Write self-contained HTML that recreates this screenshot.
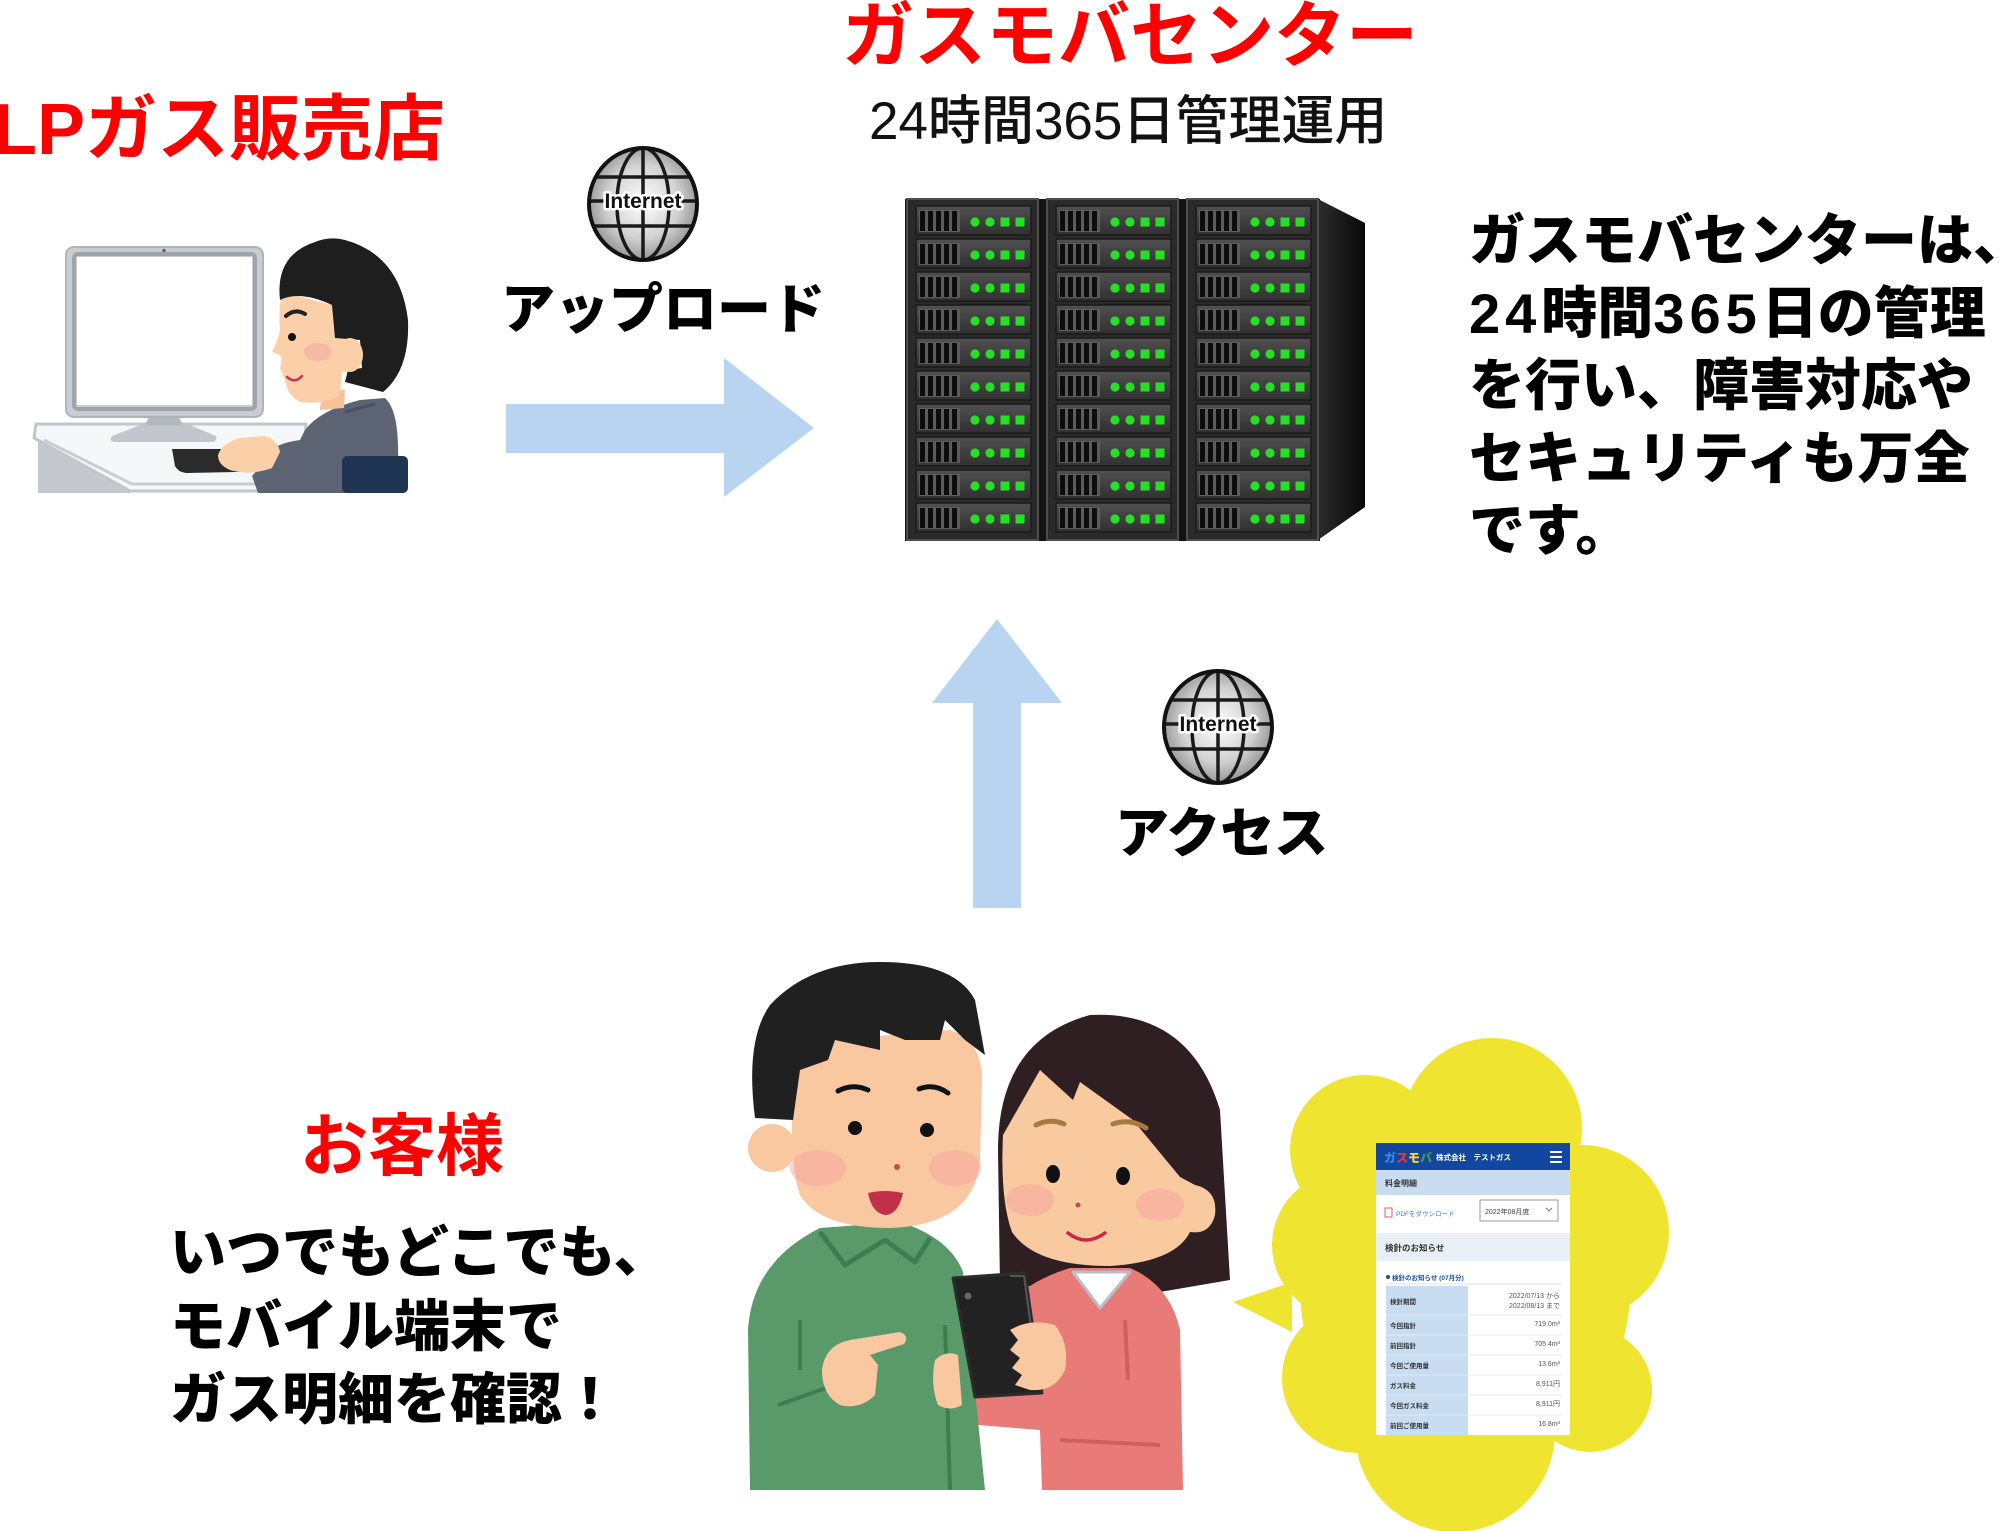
<!DOCTYPE html>
<html><head><meta charset="utf-8">
<style>
html,body{margin:0;padding:0;background:#fff;}
body{width:2000px;height:1531px;position:relative;overflow:hidden;}
svg.main{position:absolute;left:0;top:0;}
.t{position:absolute;white-space:nowrap;font-family:"Liberation Sans","Noto Sans CJK JP",sans-serif;margin:0;}
.red{color:#ff0000;font-weight:700;}
.blk{color:#000;font-weight:900;}
.sub{color:#111;font-weight:500;}
.d{letter-spacing:5px;}
</style></head><body>
<svg class="main" width="2000" height="1531" viewBox="0 0 2000 1531" xmlns="http://www.w3.org/2000/svg">
<defs>
  <radialGradient id="gg" cx="50%" cy="48%" r="55%">
    <stop offset="0" stop-color="#ffffff"/>
    <stop offset="0.6" stop-color="#d2d2d2"/>
    <stop offset="1" stop-color="#8c8c8c"/>
  </radialGradient>
  <clipPath id="gc"><ellipse cx="0" cy="0" rx="54" ry="56"/></clipPath>
  <g id="globe">
    <ellipse cx="0" cy="0" rx="54" ry="56" fill="url(#gg)"/>
    <g clip-path="url(#gc)" stroke="#1a1a1a" stroke-width="3.5" fill="none">
      <line x1="-60" y1="-27" x2="60" y2="-27"/>
      <line x1="-60" y1="22" x2="60" y2="22"/>
      <line x1="-60" y1="-3" x2="60" y2="-3"/>
      <line x1="0" y1="-60" x2="0" y2="60"/>
      <ellipse cx="0" cy="0" rx="26" ry="56"/>
    </g>
    <ellipse cx="0" cy="0" rx="54" ry="56" fill="none" stroke="#111" stroke-width="4"/>
    <text x="0" y="4" text-anchor="middle" font-family="Liberation Sans, sans-serif" font-weight="bold" font-size="21" fill="#111" stroke="#fff" stroke-width="5" paint-order="stroke" stroke-linejoin="round">Internet</text>
  </g>
  <linearGradient id="ug" x1="0" y1="0" x2="0" y2="1">
    <stop offset="0" stop-color="#505050"/>
    <stop offset="1" stop-color="#303030"/>
  </linearGradient>
  <linearGradient id="sg" x1="0" y1="0" x2="1" y2="0">
    <stop offset="0" stop-color="#2c2c2c"/>
    <stop offset="1" stop-color="#080808"/>
  </linearGradient>
  <g id="unit">
    <rect x="0" y="0" width="115" height="29" fill="url(#ug)" stroke="#1a1a1a" stroke-width="1.5"/>
    <rect x="3" y="4" width="41" height="22" fill="#5c5c5c"/>
    <rect x="4" y="5" width="5" height="20" fill="#0c0c0c"/>
    <rect x="12" y="5" width="5" height="20" fill="#0c0c0c"/>
    <rect x="20" y="5" width="5" height="20" fill="#0c0c0c"/>
    <rect x="28" y="5" width="5" height="20" fill="#0c0c0c"/>
    <rect x="36" y="5" width="5" height="20" fill="#0c0c0c"/>
    <circle cx="59" cy="16" r="4.6" fill="#25e025"/>
    <circle cx="74" cy="16" r="4.6" fill="#25e025"/>
    <rect x="84.5" y="11.5" width="9" height="9" fill="#25e025"/>
    <rect x="99.5" y="11.5" width="9" height="9" fill="#25e025"/>
  </g>
  <g id="col">
    <rect x="0" y="0" width="131" height="341" fill="#2a2a2a" stroke="#4d4d4d" stroke-width="2"/>
    <use href="#unit" x="9" y="7"/>
    <use href="#unit" x="9" y="40"/>
    <use href="#unit" x="9" y="73"/>
    <use href="#unit" x="9" y="106"/>
    <use href="#unit" x="9" y="139"/>
    <use href="#unit" x="9" y="172"/>
    <use href="#unit" x="9" y="205"/>
    <use href="#unit" x="9" y="238"/>
    <use href="#unit" x="9" y="271"/>
    <use href="#unit" x="9" y="304"/>
  </g>
</defs>

<!-- ===== Computer + person (top-left) ===== -->
<polygon points="38,440 38,493 132,493" fill="#c5c9cf"/>
<polygon points="36,424 306,424 303,491 130,491 34,438" fill="#f6f7f9" stroke="#c2c6cc" stroke-width="3" stroke-linejoin="round"/>
<polyline points="44,440 132,484 300,484" fill="none" stroke="#c9cdd3" stroke-width="3"/>
<polygon points="150,415 178,415 184,427 144,427" fill="#b3b8bf"/>
<path d="M140 425 L190 425 L216 436 Q218 442 210 442 L116 442 Q108 442 112 436 Z" fill="#c3c7cd"/>
<rect x="66" y="247" width="197" height="170" rx="8" fill="#c9ccd1" stroke="#b0b4ba" stroke-width="2"/>
<rect x="74" y="254" width="181" height="155" rx="4" fill="none" stroke="#9fa4ab" stroke-width="4"/>
<rect x="77" y="257" width="175" height="148" fill="#fff"/>
<circle cx="164" cy="250.5" r="1.8" fill="#666"/>
<path d="M172 449 L300 449 L298 466 Q296 471 290 471 L186 473 Q178 472 175 466 Z" fill="#2b2b2b"/>
<path d="M262 493 L258 470 Q262 445 300 440 L305 430 Q320 410 360 400 L385 398 Q398 410 398 450 L400 493 Z" fill="#5c6473"/>
<path d="M258 493 L252 476 L266 460 L300 450 L312 470 L292 493 Z" fill="#5c6473"/>
<line x1="345" y1="412" x2="375" y2="404" stroke="#4a5261" stroke-width="3"/>
<rect x="342" y="456" width="66" height="37" rx="5" fill="#1f3553"/>
<polygon points="322,388 345,390 344,408 320,410" fill="#f6c29a"/>
<path d="M283 292 L332 305 L336 338 Q360 336 362 355 Q360 372 342 372 L340 395 Q325 405 300 402 Q287 395 285 380 L280 368 Q283 360 280 355 L272 352 Q278 340 280 330 Q278 305 283 292 Z" fill="#fbcfa8"/>
<path d="M280 300 Q275 255 315 242 Q330 236 345 240 Q400 255 408 320 Q410 370 383 392 L345 382 L348 370 L362 368 L360 340 L335 338 L332 305 Q300 290 280 300 Z" fill="#1e1e1e"/>
<ellipse cx="350" cy="355" rx="13" ry="17" fill="#fbcfa8"/>
<ellipse cx="318" cy="352" rx="14" ry="9" fill="#f6a7a0" opacity="0.55"/>
<path d="M286 316 Q295 308 305 314" fill="none" stroke="#222" stroke-width="4" stroke-linecap="round"/>
<circle cx="292" cy="337" r="4" fill="#111"/>
<path d="M287 377 Q295 384 302 376" fill="none" stroke="#c23a5a" stroke-width="2.5" stroke-linecap="round"/>
<path d="M218 455 Q222 443 240 438 L265 436 Q278 440 280 452 L272 468 Q250 476 230 470 Q218 465 218 455 Z" fill="#fbcfa8"/>

<!-- ===== Globe 1 ===== -->
<use href="#globe" x="643" y="204"/>

<!-- ===== Right arrow ===== -->
<polygon points="506,404 724,404 724,358 814,428 724,497 724,453 506,453" fill="#b8d4f1"/>

<!-- ===== Server rack ===== -->
<rect x="905" y="199" width="415" height="342" fill="#131313"/>
<polygon points="1318,199 1365,223 1365,507 1318,540" fill="url(#sg)"/>
<use href="#col" x="907" y="199"/>
<use href="#col" x="1047" y="199"/>
<use href="#col" x="1187" y="199"/>

<!-- ===== Up arrow ===== -->
<polygon points="997,619 1062,703 1021,703 1021,908 973,908 973,703 932,703" fill="#b8d4f1"/>

<!-- ===== Globe 2 ===== -->
<use href="#globe" x="1218" y="727"/>

<!-- ===== Speech cloud ===== -->
<g fill="#efe42f">
  <polygon points="1233,1302 1292,1282 1292,1332"/>
  <circle cx="1492" cy="1128" r="90"/>
  <circle cx="1365" cy="1150" r="75"/>
  <circle cx="1345" cy="1245" r="73"/>
  <circle cx="1357" cy="1378" r="75"/>
  <circle cx="1455" cy="1432" r="100"/>
  <circle cx="1590" cy="1390" r="62"/>
  <circle cx="1582" cy="1232" r="87"/>
  <ellipse cx="1465" cy="1290" rx="165" ry="175"/>
</g>

<!-- ===== Screenshot in cloud ===== -->
<g transform="translate(1376,1143)" font-family="Liberation Sans, Noto Sans CJK JP, sans-serif">
  <rect x="0" y="0" width="194" height="292" fill="#ffffff"/>
  <rect x="0" y="0" width="194" height="27" fill="#12479f"/>
  <text x="8" y="19" font-size="12" font-weight="900"><tspan fill="#2f8de4">ガ</tspan><tspan fill="#e53935">ス</tspan><tspan fill="#fdd835">モ</tspan><tspan fill="#43a047">バ</tspan></text>
  <text x="60" y="17" font-size="7.5" fill="#ffffff" font-weight="bold">株式会社　テストガス</text>
  <rect x="174" y="8" width="12" height="2" fill="#fff"/>
  <rect x="174" y="13" width="12" height="2" fill="#fff"/>
  <rect x="174" y="18" width="12" height="2" fill="#fff"/>
  <rect x="0" y="27" width="194" height="25" fill="#c9ddf2"/>
  <text x="9" y="43" font-size="8" font-weight="bold" fill="#333">料金明細</text>
  <rect x="9" y="65" width="7" height="9" fill="#fff" stroke="#e06060" stroke-width="1"/>
  <text x="20" y="73" font-size="6.5" fill="#3a7bd5">PDFをダウンロード</text>
  <rect x="104" y="57" width="78" height="21" fill="#fff" stroke="#9a9a9a" stroke-width="1"/>
  <text x="109" y="71" font-size="7" fill="#444">2022年08月度</text>
  <polyline points="170,65 173,68 176,65" fill="none" stroke="#777" stroke-width="1"/>
  <rect x="0" y="90" width="194" height="28" fill="#e9eff6"/>
  <text x="9" y="108" font-size="8.5" font-weight="bold" fill="#333">検針のお知らせ</text>
  <circle cx="12" cy="134" r="2" fill="#1a4fa0"/>
  <text x="16" y="137" font-size="6.5" font-weight="bold" fill="#1a4fa0">検針のお知らせ (07月分)</text>
  <line x1="10" y1="141" x2="186" y2="141" stroke="#dde3ea" stroke-width="1"/>
  <rect x="10" y="143" width="82" height="149" fill="#c9ddf2"/>
  <g stroke="#e3e8ee" stroke-width="1">
    <line x1="10" y1="172" x2="186" y2="172"/>
    <line x1="10" y1="192" x2="186" y2="192"/>
    <line x1="10" y1="212" x2="186" y2="212"/>
    <line x1="10" y1="232" x2="186" y2="232"/>
    <line x1="10" y1="252" x2="186" y2="252"/>
    <line x1="10" y1="272" x2="186" y2="272"/>
  </g>
  <g font-size="6.5" font-weight="bold" fill="#333">
    <text x="14" y="161">検針期間</text>
    <text x="14" y="185">今回指針</text>
    <text x="14" y="205">前回指針</text>
    <text x="14" y="225">今回ご使用量</text>
    <text x="14" y="245">ガス料金</text>
    <text x="14" y="265">今回ガス料金</text>
    <text x="14" y="285">前回ご使用量</text>
  </g>
  <g font-size="7" fill="#555" text-anchor="end">
    <text x="184" y="155">2022/07/13 から</text>
    <text x="184" y="165">2022/08/13 まで</text>
    <text x="184" y="183">719.0m³</text>
    <text x="184" y="203">705.4m³</text>
    <text x="184" y="223">13.6m³</text>
    <text x="184" y="243">8,911円</text>
    <text x="184" y="263">8,911円</text>
    <text x="184" y="283">16.8m³</text>
  </g>
</g>

<!-- ===== Couple ===== -->
<path d="M1000 1285 L998 1150 Q998 1040 1090 1015 Q1190 1010 1220 1110 L1230 1280 L1160 1292 Z" fill="#2f1f22"/>
<path d="M1042 1490 L1040 1430 L978 1425 L975 1395 L1000 1320 Q1015 1285 1070 1268 L1130 1268 Q1170 1285 1180 1330 L1183 1490 Z" fill="#e87a78"/>
<path d="M1125 1320 L1128 1380" stroke="#d0605f" stroke-width="4" fill="none"/>
<path d="M1060 1440 L1160 1445" stroke="#d0605f" stroke-width="4" fill="none"/>
<polygon points="1073,1272 1130,1272 1100,1308" fill="#ffffff" stroke="#b9bec6" stroke-width="3" stroke-linejoin="round"/>
<path d="M1003 1135 L1040 1070 L1073 1100 L1080 1082 L1133 1120 L1180 1177 L1195 1185 Q1218 1190 1215 1215 Q1210 1235 1190 1232 Q1175 1262 1110 1266 Q1035 1266 1012 1232 Q1000 1200 1003 1135 Z" fill="#f9c9a0"/>
<ellipse cx="1030" cy="1200" rx="24" ry="16" fill="#f7a3a0" opacity="0.5"/>
<ellipse cx="1160" cy="1205" rx="24" ry="16" fill="#f7a3a0" opacity="0.5"/>
<path d="M1036 1125 Q1050 1118 1064 1124" fill="none" stroke="#a87a40" stroke-width="5" stroke-linecap="round"/>
<path d="M1113 1124 Q1130 1118 1146 1128" fill="none" stroke="#a87a40" stroke-width="5" stroke-linecap="round"/>
<ellipse cx="1053" cy="1174" rx="7" ry="9" fill="#111"/>
<ellipse cx="1123" cy="1176" rx="7" ry="9" fill="#111"/>
<circle cx="1078" cy="1205" r="2.5" fill="#c0504a"/>
<path d="M1068 1233 Q1086 1247 1105 1233" fill="none" stroke="#c8284a" stroke-width="3.5" stroke-linecap="round"/>
<path d="M750 1490 L748 1330 Q752 1262 820 1228 L900 1222 Q950 1238 963 1272 L985 1490 Z" fill="#5a9a6a"/>
<polyline points="820,1232 845,1265 885,1240 915,1262 930,1238" fill="none" stroke="#3e7d50" stroke-width="5" stroke-linejoin="round"/>
<path d="M800 1320 L800 1370" stroke="#3e7d50" stroke-width="4" fill="none"/>
<path d="M778 1405 L835 1385" stroke="#3e7d50" stroke-width="4" fill="none"/>
<path d="M945 1325 L950 1490" stroke="#3e7d50" stroke-width="4" fill="none"/>
<path d="M792 1075 Q792 1045 830 1040 L950 1030 Q982 1040 982 1080 L980 1160 Q975 1225 890 1228 Q820 1228 800 1195 Q790 1170 792 1075 Z" fill="#f9c8a0"/>
<path d="M755 1118 Q745 1040 770 1005 Q810 962 880 962 Q955 962 975 1000 L985 1055 L965 1040 L945 1020 L940 1040 L905 1040 L880 1030 L880 1050 L835 1040 L828 1060 L800 1070 L793 1120 Z" fill="#202020"/>
<ellipse cx="772" cy="1148" rx="24" ry="24" fill="#f9c8a0"/>
<ellipse cx="818" cy="1168" rx="28" ry="18" fill="#f7a3a0" opacity="0.5"/>
<ellipse cx="955" cy="1168" rx="26" ry="18" fill="#f7a3a0" opacity="0.5"/>
<path d="M838 1091 Q853 1083 868 1090" fill="none" stroke="#111" stroke-width="5" stroke-linecap="round"/>
<path d="M919 1089 Q934 1083 948 1093" fill="none" stroke="#111" stroke-width="5" stroke-linecap="round"/>
<circle cx="855" cy="1128" r="7" fill="#111"/>
<circle cx="927" cy="1130" r="7" fill="#111"/>
<circle cx="897" cy="1167" r="3" fill="#c0504a"/>
<path d="M868 1193 Q885 1189 903 1193 Q898 1215 885 1215 Q872 1213 868 1193 Z" fill="#c0304a"/>
<polygon points="953,1278 1025,1273 1042,1393 975,1397" fill="#222" stroke="#2c2c2c" stroke-width="3" stroke-linejoin="round"/>
<path d="M1010 1276 L1024 1276 L1038 1380" fill="none" stroke="#555" stroke-width="2"/>
<circle cx="968" cy="1296" r="3.5" fill="#666"/>
<path d="M822 1370 Q825 1345 850 1340 L900 1332 Q910 1336 904 1344 L870 1355 L878 1365 L875 1395 Q860 1410 840 1405 Q822 1395 822 1370 Z" fill="#f9c8a0"/>
<path d="M935 1360 Q945 1350 958 1355 L962 1405 Q950 1412 938 1405 Q930 1385 935 1360 Z" fill="#f9c8a0"/>
<path d="M1010 1330 Q1030 1318 1055 1325 Q1070 1345 1065 1370 Q1055 1392 1030 1390 L1015 1385 L1022 1375 L1012 1368 L1020 1358 L1010 1350 L1018 1340 Z" fill="#f9c8a0"/>
</svg>

<div class="t red" style="left:-7px;top:94px;font-size:72px;line-height:72px;">LPガス販売店</div>
<div class="t red" style="left:842px;top:1px;font-size:72px;line-height:72px;">ガスモバセンター</div>
<div class="t sub" style="left:869px;top:95px;font-size:53px;line-height:53px;">24時間365日管理運用</div>
<div class="t blk" style="left:501px;top:283px;font-size:54px;line-height:54px;">アップロード</div>
<div class="t blk" style="left:1115px;top:807px;font-size:54px;line-height:54px;">アクセス</div>
<div class="t blk" style="left:1469px;top:205px;font-size:56px;line-height:72.5px;">ガスモバセンターは、<br><span class="d">24</span>時間<span class="d">365</span>日の管理<br>を行い、障害対応や<br>セキュリティも万全<br>です。</div>
<div class="t red" style="left:300px;top:1113px;font-size:68px;line-height:68px;">お客様</div>
<div class="t blk" style="left:170px;top:1216px;font-size:56px;line-height:73.5px;">いつでもどこでも、<br>モバイル端末で<br>ガス明細を確認！</div>
</body></html>
